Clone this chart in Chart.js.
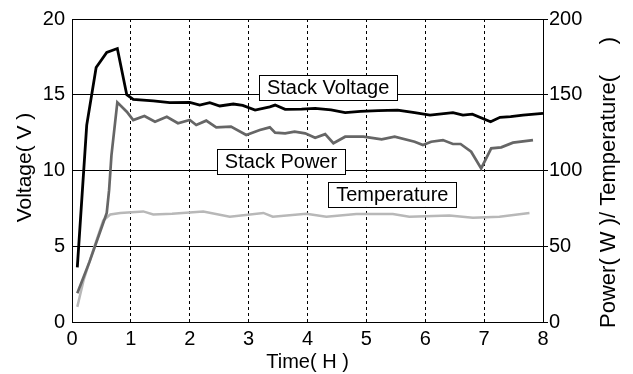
<!DOCTYPE html>
<html>
<head>
<meta charset="utf-8">
<script src="https://cdn.jsdelivr.net/npm/chart.js@4/dist/chart.umd.min.js"></script>
<style>
html,body{margin:0;padding:0;background:#fff;}
#wrap{width:633px;height:374px;position:relative;}
</style>
</head>
<body>
<div id="wrap"><canvas id="c" width="633" height="374"></canvas></div>
<script>
// ---- data ----
const xTicks = [0,1,2,3,4,5,6,7,8];
const leftTicks = [0,5,10,15,20];
const rightTicks = [0,50,100,150,200];

const timeV = [0.09,0.25,0.41,0.59,0.77,0.93,1.04,1.38,1.66,2.0,2.17,2.34,2.51,2.74,2.9,3.11,3.36,3.45,3.62,3.9,4.13,4.4,4.64,4.9,5.2,5.53,5.82,6.08,6.47,6.64,6.8,7.11,7.27,7.45,7.66,8.0];
const voltage = [3.6,13.0,16.8,17.8,18.05,15.0,14.7,14.59,14.48,14.5,14.32,14.48,14.26,14.39,14.3,13.99,14.2,14.32,14.04,14.05,14.1,14.0,13.82,13.9,13.95,13.99,13.82,13.66,13.82,13.66,13.72,13.22,13.51,13.55,13.66,13.77];

const timeP = [0.09,0.3,0.5,0.59,0.63,0.67,0.77,0.93,1.04,1.23,1.41,1.61,1.8,2.0,2.11,2.28,2.45,2.7,2.96,3.19,3.36,3.45,3.62,3.78,3.96,4.13,4.3,4.44,4.64,4.95,5.26,5.48,5.82,5.96,6.1,6.3,6.47,6.6,6.78,6.95,7.12,7.29,7.49,7.83];
const power = [19,40,62,72,87,110,145,138.8,133.3,136,132.2,135.5,131.2,133.3,130,132.9,128.5,129,123.4,126.7,128.5,125,124.5,125.6,124.5,121.6,124,118,122.3,122.3,120.6,122.3,119,116.8,119,120.1,117.5,117.5,112.4,101.4,114.6,115.3,118.4,120.1];

const timeT = [0.09,0.2,0.36,0.53,0.65,0.82,1.21,1.38,1.7,2.23,2.68,3.25,3.41,3.98,4.32,4.83,5.45,5.73,6.41,6.81,7.26,7.77];
const temperature = [10,28,47.5,67,71,72,73,71,71.5,73,69.5,72,69.5,71.5,69.5,71.3,71.3,69.5,70.3,68.8,69.5,72];

const seriesNames = ['Stack Voltage','Stack Power','Temperature'];
const xTitle = 'Time( H )';
const yLeftTitle = 'Voltage( V )';
const yRightTitle = 'Power( W )/ Temperature(     )';

// ---- build ----
const pts = (xs, ys) => xs.map((x, i) => ({x, y: ys[i]}));
const FONT = "'Liberation Sans', Arial, sans-serif";

const annotations = [
  {text: seriesNames[0], x: 4.35, y: 15.48},
  {text: seriesNames[1], x: 3.55, y: 10.6},
  {text: seriesNames[2], x: 5.44, y: 8.42}
];

const framePlugin = {
  id: 'frame',
  afterDatasetsDraw(chart) {
    const {ctx, chartArea: a, scales} = chart;
    ctx.save();
    ctx.strokeStyle = '#000';
    ctx.lineWidth = 1;
    ctx.strokeRect(Math.round(a.left) + 0.5, Math.round(a.top) + 0.5, Math.round(a.right - a.left), Math.round(a.bottom - a.top));
    ctx.font = '20px ' + FONT;
    ctx.textAlign = 'center';
    ctx.textBaseline = 'middle';
    annotations.forEach(an => {
      const cx = scales.x.getPixelForValue(an.x);
      const cy = scales.y.getPixelForValue(an.y);
      const w = ctx.measureText(an.text).width + 16;
      const h = 25;
      ctx.fillStyle = '#fff';
      ctx.fillRect(cx - w / 2, cy - h / 2, w, h);
      ctx.strokeStyle = '#000';
      ctx.strokeRect(Math.round(cx - w / 2) + 0.5, Math.round(cy - h / 2) + 0.5, Math.round(w), h);
      ctx.fillStyle = '#000';
      ctx.fillText(an.text, cx, cy + 1);
    });
    // axis titles (both reading bottom-to-top)
    const midY = (a.top + a.bottom) / 2;
    ctx.fillStyle = '#000';
    ctx.font = '21px ' + FONT;
    ctx.save();
    ctx.translate(25, midY - 3);
    ctx.rotate(-Math.PI / 2);
    ctx.fillText(yLeftTitle, 0, 0);
    ctx.restore();
    ctx.font = '22px ' + FONT;
    ctx.save();
    ctx.translate(609, midY + 12);
    ctx.rotate(-Math.PI / 2);
    ctx.fillText(yRightTitle, 0, 0);
    ctx.restore();
    ctx.restore();
  }
};

new Chart(document.getElementById('c'), {
  type: 'line',
  data: {
    datasets: [
      {label: seriesNames[2], data: pts(timeT, temperature), yAxisID: 'y2', borderColor: '#b8b8b8', borderWidth: 2.5, pointRadius: 0, tension: 0, order: 3},
      {label: seriesNames[1], data: pts(timeP, power), yAxisID: 'y2', borderColor: '#666666', borderWidth: 2.7, pointRadius: 0, tension: 0, order: 2},
      {label: seriesNames[0], data: pts(timeV, voltage), yAxisID: 'y', borderColor: '#000', borderWidth: 2.8, pointRadius: 0, tension: 0, order: 1}
    ]
  },
  options: {
    responsive: false,
    animation: false,
    layout: {padding: {top: 19, left: 0, right: 0, bottom: 0}},
    plugins: {legend: {display: false}, tooltip: {enabled: false}},
    scales: {
      x: {
        type: 'linear', min: 0, max: 8,
        afterBuildTicks: s => { s.ticks = xTicks.map(v => ({value: v})); },
        afterFit: s => { s.height = 52; },
        grid: {
          color: ctx => (ctx.tick && (ctx.tick.value === 0 || ctx.tick.value === 8)) ? 'rgba(0,0,0,0)' : '#000',
          lineWidth: 1, drawTicks: false
        },
        border: {display: false, dash: [3, 3]},
        ticks: {color: '#000', font: {family: FONT, size: 20}, padding: 5, maxRotation: 0},
        title: {display: true, text: xTitle, color: '#000', font: {family: FONT, size: 20}, padding: {top: 0, bottom: 0}}
      },
      y: {
        position: 'left', min: 0, max: 20,
        afterBuildTicks: s => { s.ticks = leftTicks.map(v => ({value: v})); },
        afterFit: s => { s.width = 72; },
        grid: {color: '#000', lineWidth: 1, drawTicks: false},
        border: {display: false},
        ticks: {color: '#000', font: {family: FONT, size: 20}, padding: 7},
        title: {display: false}
      },
      y2: {
        position: 'right', min: 0, max: 200,
        afterBuildTicks: s => { s.ticks = rightTicks.map(v => ({value: v})); },
        afterFit: s => { s.width = 90; },
        grid: {drawOnChartArea: false, color: '#000', tickLength: 5},
        border: {display: false},
        ticks: {color: '#000', font: {family: FONT, size: 20}, padding: 1},
        title: {display: false}
      }
    }
  },
  plugins: [framePlugin]
});
</script>
</body>
</html>
